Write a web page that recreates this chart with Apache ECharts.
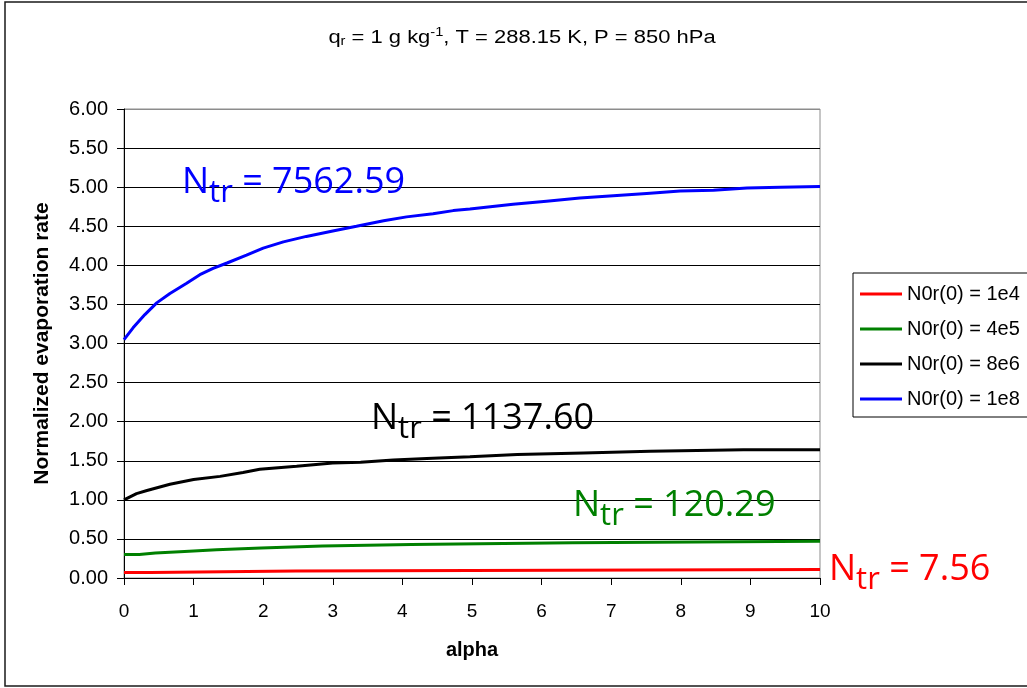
<!DOCTYPE html>
<html>
<head>
<meta charset="utf-8">
<script src="https://cdn.jsdelivr.net/npm/echarts@6/dist/echarts.min.js"></script>
<style>
  html, body { margin: 0; padding: 0; background: #ffffff; }
  #chart { width: 1027px; height: 688px; }
</style>
</head>
<body>
<div id="chart"></div>
<script>
// Normalized evaporation rate versus alpha for four intercept values N0r(0)
var seriesNames = ['N0r(0) = 1e4', 'N0r(0) = 4e5', 'N0r(0) = 8e6', 'N0r(0) = 1e8'];
var seriesColors = ['#ff0000', '#008000', '#000000', '#0000ff'];

// Stepped curves: [alpha where the level starts, rate]
var rate1e4 = [[0, 0.07], [0.38, 0.09], [2.47, 0.11], [10, 0.11]];
var rate4e5 = [[0, 0.30], [0.22, 0.32], [0.45, 0.34], [0.87, 0.36], [1.33, 0.385],
               [1.97, 0.41], [2.85, 0.43], [4.13, 0.45], [6.45, 0.47], [10, 0.47]];
// Continuous curves: [alpha, rate]
var rate8e6 = [[0, 1.00], [0.18, 1.08], [0.33, 1.12], [0.66, 1.20], [1.0, 1.26], [1.38, 1.30],
               [1.71, 1.35], [1.95, 1.39], [2.48, 1.43], [3.0, 1.47], [3.4, 1.48], [3.87, 1.51],
               [4.35, 1.53], [4.97, 1.55], [5.65, 1.58], [6.6, 1.60], [7.56, 1.62], [8.9, 1.64], [10, 1.64]];
var rate1e8 = [[0, 3.05], [0.13, 3.20], [0.30, 3.37], [0.47, 3.52], [0.66, 3.64], [0.90, 3.77],
               [1.09, 3.88], [1.28, 3.96], [1.48, 4.03], [1.76, 4.13], [2.0, 4.22], [2.29, 4.30],
               [2.62, 4.37], [3.0, 4.44], [3.34, 4.50], [3.73, 4.57], [4.06, 4.62], [4.44, 4.66],
               [4.73, 4.70], [4.97, 4.72], [5.59, 4.78], [6.07, 4.82], [6.55, 4.86], [7.03, 4.89],
               [7.51, 4.92], [7.99, 4.95], [8.47, 4.96], [8.95, 4.99], [9.43, 5.00], [10, 5.01]];

// Threshold concentrations written next to each curve
var ntrValues = ['7562.59', '1137.60', '120.29', '7.56'];
var ntrColors = ['#0000ff', '#000000', '#008000', '#ff0000'];

var yTickLabels = ['0.00', '0.50', '1.00', '1.50', '2.00', '2.50', '3.00',
                   '3.50', '4.00', '4.50', '5.00', '5.50', '6.00'];
var xTickLabels = ['0', '1', '2', '3', '4', '5', '6', '7', '8', '9', '10'];

var FONT = '"Liberation Sans", Arial, sans-serif';
var LABEL_FONT = '"Open Sans", "Noto Sans", sans-serif';

var chart = echarts.init(document.getElementById('chart'), null, { renderer: 'canvas' });

function ntrLabel(idx, x, y) {
  return {
    type: 'text',
    left: x,
    top: y,
    z: 50,
    style: {
      text: '{n|N}{s|tr}{n| = ' + ntrValues[idx] + '}',
      fill: ntrColors[idx],
      rich: {
        n: { fontFamily: LABEL_FONT, fontSize: 36, lineHeight: 40, fill: ntrColors[idx] },
        s: { fontFamily: LABEL_FONT, fontSize: 31, lineHeight: 40, padding: [22, 0, 0, 0], fill: ntrColors[idx] }
      }
    }
  };
}

var splitColors = yTickLabels.map(function (t, i) { return i === yTickLabels.length - 1 ? '#8c8c8c' : '#000000'; });

var seriesData = [rate1e4, rate4e5, rate8e6, rate1e8];
var stepped = [true, true, false, false];

var option = {
  backgroundColor: '#ffffff',
  animation: false,
  grid: {
    left: 124, right: 207, top: 109, bottom: 110,
    show: true, borderColor: '#8c8c8c', borderWidth: 1, backgroundColor: 'transparent'
  },
  legend: {
    orient: 'vertical',
    left: 853,
    top: 273,
    padding: [11, 30, 8, 7],
    itemGap: 15,
    itemWidth: 42,
    itemHeight: 3,
    icon: 'rect',
    borderColor: '#000000',
    borderWidth: 1,
    data: seriesNames,
    textStyle: { fontFamily: FONT, fontSize: 20, color: '#000' }
  },
  xAxis: {
    type: 'value',
    min: 0, max: 10, interval: 1,
    name: 'alpha',
    nameLocation: 'middle',
    nameGap: 62,
    nameTextStyle: { fontFamily: FONT, fontSize: 20, fontWeight: 'bold', color: '#000' },
    axisLine: { show: true, onZero: false, lineStyle: { color: '#000', width: 1 } },
    axisTick: { show: true, inside: false, length: 7, lineStyle: { color: '#000' } },
    axisLabel: {
      margin: 24, fontFamily: FONT, fontSize: 19, color: '#000',
      formatter: function (v) { return xTickLabels[Math.round(v)]; }
    },
    splitLine: { show: false }
  },
  yAxis: {
    type: 'value',
    min: 0, max: 6, interval: 0.5,
    name: 'Normalized evaporation rate',
    nameLocation: 'middle',
    nameGap: 71,
    nameTextStyle: { fontFamily: FONT, fontSize: 21, fontWeight: 'bold', color: '#000' },
    axisLine: { show: true, lineStyle: { color: '#000', width: 1 } },
    axisTick: { show: true, inside: false, length: 7, lineStyle: { color: '#000' } },
    axisLabel: {
      margin: 16, fontFamily: FONT, fontSize: 20, color: '#000',
      formatter: function (v) { return yTickLabels[Math.round(v / 0.5)]; }
    },
    splitLine: { show: true, lineStyle: { color: splitColors, width: 1 } }
  },
  series: seriesNames.map(function (name, i) {
    return {
      name: name,
      type: 'line',
      data: seriesData[i],
      step: stepped[i] ? 'end' : false,
      showSymbol: false,
      symbol: 'none',
      color: seriesColors[i],
      lineStyle: { color: seriesColors[i], width: 3 },
      z: 3 + i
    };
  }),
  graphic: [
    {
      type: 'rect',
      shape: { x: 5, y: 2, width: 1060, height: 684 },
      style: { fill: 'none', stroke: '#1a1a1a', lineWidth: 1.5 },
      z: 100,
      silent: true
    },
    {
      // chart title with subscript and superscript parts
      type: 'text',
      x: 522,
      y: 38,
      scaleX: 1.22,
      z: 50,
      style: {
        text: '{a|q}{s|r}{a| = 1 g kg}{p|-1}{a|, T = 288.15 K, P = 850 hPa}',
        align: 'center',
        verticalAlign: 'middle',
        fill: '#000',
        rich: {
          a: { fontFamily: FONT, fontSize: 18, fontWeight: 'normal', lineHeight: 22, fill: '#000' },
          s: { fontFamily: FONT, fontSize: 12, fontWeight: 'normal', lineHeight: 14, padding: [8, 0, 0, 0], fill: '#000' },
          p: { fontFamily: FONT, fontSize: 12, fontWeight: 'normal', lineHeight: 14, padding: [0, 0, 10, 0], fill: '#000' }
        }
      }
    },
    ntrLabel(0, 182, 156),
    ntrLabel(1, 371, 392),
    ntrLabel(2, 573, 479),
    ntrLabel(3, 829, 543)
  ]
};

chart.setOption(option);
</script>
</body>
</html>
